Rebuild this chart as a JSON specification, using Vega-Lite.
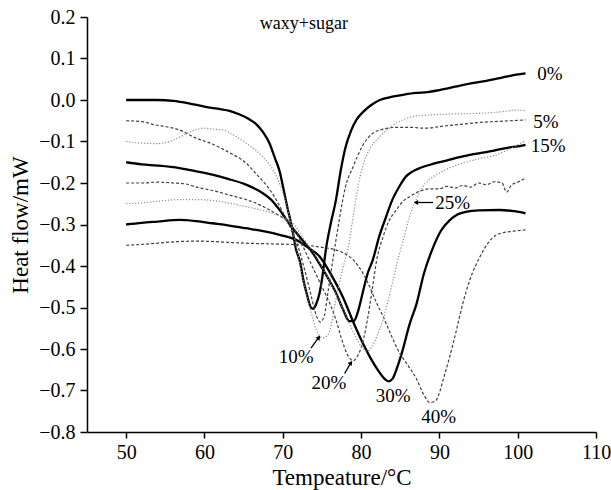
{
  "$schema": "https://vega.github.io/schema/vega-lite/v6.json",
  "width": 509,
  "height": 415,
  "autosize": "none",
  "padding": {"left": 87, "top": 17, "right": 15, "bottom": 58},
  "background": "white",
  "config": {
    "view": {"stroke": null},
    "font": "Liberation Serif",
    "axis": {
      "grid": false,
      "domainColor": "black",
      "domainWidth": 1.5,
      "tickColor": "black",
      "tickWidth": 1.5,
      "labelFont": "Liberation Serif",
      "labelFontSize": 20,
      "labelColor": "black",
      "labelOverlap": false,
      "titleFont": "Liberation Serif",
      "titleFontSize": 23,
      "titleFontWeight": "normal",
      "titleColor": "black"
    }
  },
  "datasets": {
    "curves": [
      {"sugar":"0%","temp":50,"hf":0.0},{"sugar":"0%","temp":52,"hf":0.0},{"sugar":"0%","temp":54,"hf":0.0},{"sugar":"0%","temp":56,"hf":-0.002},{"sugar":"0%","temp":58,"hf":-0.008},{"sugar":"0%","temp":60,"hf":-0.016},{"sugar":"0%","temp":62,"hf":-0.022},{"sugar":"0%","temp":63.2,"hf":-0.026},{"sugar":"0%","temp":64.5,"hf":-0.035},{"sugar":"0%","temp":65.5,"hf":-0.044},{"sugar":"0%","temp":66.6,"hf":-0.058},{"sugar":"0%","temp":67.5,"hf":-0.078},{"sugar":"0%","temp":68.3,"hf":-0.104},{"sugar":"0%","temp":69,"hf":-0.14},{"sugar":"0%","temp":69.6,"hf":-0.172},{"sugar":"0%","temp":70.1,"hf":-0.215},{"sugar":"0%","temp":70.6,"hf":-0.26},{"sugar":"0%","temp":71.1,"hf":-0.3},{"sugar":"0%","temp":71.7,"hf":-0.36},{"sugar":"0%","temp":72.2,"hf":-0.39},{"sugar":"0%","temp":72.7,"hf":-0.44},{"sugar":"0%","temp":73.1,"hf":-0.47},{"sugar":"0%","temp":73.6,"hf":-0.5},{"sugar":"0%","temp":73.9,"hf":-0.503},{"sugar":"0%","temp":74.3,"hf":-0.49},{"sugar":"0%","temp":74.7,"hf":-0.465},{"sugar":"0%","temp":75.1,"hf":-0.42},{"sugar":"0%","temp":75.5,"hf":-0.361},{"sugar":"0%","temp":76.1,"hf":-0.3},{"sugar":"0%","temp":76.8,"hf":-0.24},{"sugar":"0%","temp":77.4,"hf":-0.17},{"sugar":"0%","temp":78,"hf":-0.115},{"sugar":"0%","temp":78.7,"hf":-0.075},{"sugar":"0%","temp":79.4,"hf":-0.048},{"sugar":"0%","temp":80.3,"hf":-0.028},{"sugar":"0%","temp":81.3,"hf":-0.012},{"sugar":"0%","temp":82.4,"hf":0.0},{"sugar":"0%","temp":84,"hf":0.008},{"sugar":"0%","temp":85.5,"hf":0.013},{"sugar":"0%","temp":87,"hf":0.017},{"sugar":"0%","temp":88.5,"hf":0.019},{"sugar":"0%","temp":90,"hf":0.024},{"sugar":"0%","temp":92,"hf":0.032},{"sugar":"0%","temp":94,"hf":0.04},{"sugar":"0%","temp":96,"hf":0.046},{"sugar":"0%","temp":98,"hf":0.054},{"sugar":"0%","temp":99.5,"hf":0.06},{"sugar":"0%","temp":101,"hf":0.064},

      {"sugar":"5%","temp":50,"hf":-0.05},{"sugar":"5%","temp":52,"hf":-0.052},{"sugar":"5%","temp":53.7,"hf":-0.06},{"sugar":"5%","temp":55,"hf":-0.064},{"sugar":"5%","temp":56.8,"hf":-0.072},{"sugar":"5%","temp":58.7,"hf":-0.09},{"sugar":"5%","temp":61,"hf":-0.106},{"sugar":"5%","temp":63,"hf":-0.125},{"sugar":"5%","temp":65.3,"hf":-0.152},{"sugar":"5%","temp":66.7,"hf":-0.18},{"sugar":"5%","temp":67.9,"hf":-0.205},{"sugar":"5%","temp":69,"hf":-0.235},{"sugar":"5%","temp":70,"hf":-0.27},{"sugar":"5%","temp":70.9,"hf":-0.305},{"sugar":"5%","temp":71.9,"hf":-0.35},{"sugar":"5%","temp":72.8,"hf":-0.41},{"sugar":"5%","temp":73.6,"hf":-0.47},{"sugar":"5%","temp":74.3,"hf":-0.52},{"sugar":"5%","temp":74.8,"hf":-0.535},{"sugar":"5%","temp":75.3,"hf":-0.52},{"sugar":"5%","temp":75.8,"hf":-0.46},{"sugar":"5%","temp":76.4,"hf":-0.385},{"sugar":"5%","temp":77.2,"hf":-0.29},{"sugar":"5%","temp":78,"hf":-0.21},{"sugar":"5%","temp":79,"hf":-0.16},{"sugar":"5%","temp":80.2,"hf":-0.11},{"sugar":"5%","temp":81.5,"hf":-0.08},{"sugar":"5%","temp":82.5,"hf":-0.072},{"sugar":"5%","temp":84.5,"hf":-0.066},{"sugar":"5%","temp":86.6,"hf":-0.066},{"sugar":"5%","temp":88,"hf":-0.068},{"sugar":"5%","temp":90.9,"hf":-0.062},{"sugar":"5%","temp":93,"hf":-0.058},{"sugar":"5%","temp":95.2,"hf":-0.054},{"sugar":"5%","temp":97,"hf":-0.052},{"sugar":"5%","temp":99,"hf":-0.05},{"sugar":"5%","temp":101,"hf":-0.048},

      {"sugar":"10%","temp":50,"hf":-0.1},{"sugar":"10%","temp":52,"hf":-0.104},{"sugar":"10%","temp":54,"hf":-0.105},{"sugar":"10%","temp":55.5,"hf":-0.1},{"sugar":"10%","temp":57,"hf":-0.088},{"sugar":"10%","temp":58.5,"hf":-0.074},{"sugar":"10%","temp":60,"hf":-0.068},{"sugar":"10%","temp":61,"hf":-0.07},{"sugar":"10%","temp":62.3,"hf":-0.072},{"sugar":"10%","temp":63.5,"hf":-0.082},{"sugar":"10%","temp":65.3,"hf":-0.104},{"sugar":"10%","temp":67.4,"hf":-0.136},{"sugar":"10%","temp":69.2,"hf":-0.184},{"sugar":"10%","temp":70.3,"hf":-0.24},{"sugar":"10%","temp":71.2,"hf":-0.31},{"sugar":"10%","temp":72,"hf":-0.38},{"sugar":"10%","temp":72.8,"hf":-0.45},{"sugar":"10%","temp":73.6,"hf":-0.51},{"sugar":"10%","temp":74.3,"hf":-0.555},{"sugar":"10%","temp":75.1,"hf":-0.573},{"sugar":"10%","temp":75.8,"hf":-0.565},{"sugar":"10%","temp":76.8,"hf":-0.48},{"sugar":"10%","temp":77.6,"hf":-0.41},{"sugar":"10%","temp":78.3,"hf":-0.36},{"sugar":"10%","temp":79,"hf":-0.28},{"sugar":"10%","temp":79.6,"hf":-0.21},{"sugar":"10%","temp":80.2,"hf":-0.16},{"sugar":"10%","temp":81.2,"hf":-0.115},{"sugar":"10%","temp":82.4,"hf":-0.088},{"sugar":"10%","temp":83.8,"hf":-0.065},{"sugar":"10%","temp":85.3,"hf":-0.048},{"sugar":"10%","temp":86.6,"hf":-0.04},{"sugar":"10%","temp":88.8,"hf":-0.036},{"sugar":"10%","temp":91,"hf":-0.034},{"sugar":"10%","temp":93,"hf":-0.033},{"sugar":"10%","temp":95.2,"hf":-0.032},{"sugar":"10%","temp":97,"hf":-0.03},{"sugar":"10%","temp":99,"hf":-0.026},{"sugar":"10%","temp":100,"hf":-0.024},{"sugar":"10%","temp":101,"hf":-0.026},

      {"sugar":"15%","temp":50,"hf":-0.15},{"sugar":"15%","temp":52,"hf":-0.155},{"sugar":"15%","temp":54,"hf":-0.158},{"sugar":"15%","temp":56.8,"hf":-0.164},{"sugar":"15%","temp":59,"hf":-0.172},{"sugar":"15%","temp":61,"hf":-0.18},{"sugar":"15%","temp":63,"hf":-0.19},{"sugar":"15%","temp":65.3,"hf":-0.204},{"sugar":"15%","temp":67.4,"hf":-0.224},{"sugar":"15%","temp":68.5,"hf":-0.24},{"sugar":"15%","temp":69.6,"hf":-0.265},{"sugar":"15%","temp":70.9,"hf":-0.3},{"sugar":"15%","temp":72.6,"hf":-0.34},{"sugar":"15%","temp":73.7,"hf":-0.365},{"sugar":"15%","temp":74.7,"hf":-0.395},{"sugar":"15%","temp":75.8,"hf":-0.43},{"sugar":"15%","temp":76.8,"hf":-0.465},{"sugar":"15%","temp":77.7,"hf":-0.505},{"sugar":"15%","temp":78.5,"hf":-0.533},{"sugar":"15%","temp":79.1,"hf":-0.532},{"sugar":"15%","temp":79.6,"hf":-0.51},{"sugar":"15%","temp":80.2,"hf":-0.465},{"sugar":"15%","temp":80.8,"hf":-0.42},{"sugar":"15%","temp":81.5,"hf":-0.385},{"sugar":"15%","temp":82.3,"hf":-0.33},{"sugar":"15%","temp":83.2,"hf":-0.281},{"sugar":"15%","temp":84,"hf":-0.24},{"sugar":"15%","temp":84.9,"hf":-0.208},{"sugar":"15%","temp":85.7,"hf":-0.185},{"sugar":"15%","temp":86.6,"hf":-0.172},{"sugar":"15%","temp":87.5,"hf":-0.164},{"sugar":"15%","temp":88.8,"hf":-0.156},{"sugar":"15%","temp":90.9,"hf":-0.146},{"sugar":"15%","temp":93,"hf":-0.136},{"sugar":"15%","temp":95.2,"hf":-0.128},{"sugar":"15%","temp":97,"hf":-0.122},{"sugar":"15%","temp":99,"hf":-0.114},{"sugar":"15%","temp":100,"hf":-0.112},{"sugar":"15%","temp":101,"hf":-0.108},

      {"sugar":"20%","temp":50,"hf":-0.2},{"sugar":"20%","temp":52,"hf":-0.2},{"sugar":"20%","temp":54,"hf":-0.198},{"sugar":"20%","temp":56,"hf":-0.2},{"sugar":"20%","temp":57.5,"hf":-0.202},{"sugar":"20%","temp":59,"hf":-0.21},{"sugar":"20%","temp":61,"hf":-0.218},{"sugar":"20%","temp":63,"hf":-0.228},{"sugar":"20%","temp":65.3,"hf":-0.24},{"sugar":"20%","temp":67,"hf":-0.252},{"sugar":"20%","temp":68.3,"hf":-0.265},{"sugar":"20%","temp":69.7,"hf":-0.28},{"sugar":"20%","temp":70.9,"hf":-0.297},{"sugar":"20%","temp":72,"hf":-0.33},{"sugar":"20%","temp":73,"hf":-0.37},{"sugar":"20%","temp":74,"hf":-0.41},{"sugar":"20%","temp":75,"hf":-0.45},{"sugar":"20%","temp":76,"hf":-0.49},{"sugar":"20%","temp":76.8,"hf":-0.53},{"sugar":"20%","temp":77.5,"hf":-0.575},{"sugar":"20%","temp":78.3,"hf":-0.615},{"sugar":"20%","temp":79,"hf":-0.628},{"sugar":"20%","temp":79.6,"hf":-0.615},{"sugar":"20%","temp":80.2,"hf":-0.585},{"sugar":"20%","temp":80.8,"hf":-0.53},{"sugar":"20%","temp":81.4,"hf":-0.46},{"sugar":"20%","temp":82,"hf":-0.385},{"sugar":"20%","temp":82.8,"hf":-0.33},{"sugar":"20%","temp":83.6,"hf":-0.29},{"sugar":"20%","temp":84.5,"hf":-0.265},{"sugar":"20%","temp":85.3,"hf":-0.245},{"sugar":"20%","temp":86.2,"hf":-0.233},{"sugar":"20%","temp":87.2,"hf":-0.222},{"sugar":"20%","temp":88.8,"hf":-0.214},{"sugar":"20%","temp":90,"hf":-0.214},{"sugar":"20%","temp":91,"hf":-0.208},{"sugar":"20%","temp":92,"hf":-0.212},{"sugar":"20%","temp":93,"hf":-0.206},{"sugar":"20%","temp":94,"hf":-0.21},{"sugar":"20%","temp":95,"hf":-0.2},{"sugar":"20%","temp":96,"hf":-0.204},{"sugar":"20%","temp":97,"hf":-0.197},{"sugar":"20%","temp":98,"hf":-0.2},{"sugar":"20%","temp":98.6,"hf":-0.222},{"sugar":"20%","temp":99.2,"hf":-0.205},{"sugar":"20%","temp":100,"hf":-0.198},{"sugar":"20%","temp":101,"hf":-0.188},

      {"sugar":"25%","temp":50,"hf":-0.25},{"sugar":"25%","temp":52,"hf":-0.248},{"sugar":"25%","temp":54,"hf":-0.244},{"sugar":"25%","temp":56.8,"hf":-0.24},{"sugar":"25%","temp":59,"hf":-0.24},{"sugar":"25%","temp":61,"hf":-0.242},{"sugar":"25%","temp":63,"hf":-0.248},{"sugar":"25%","temp":65.3,"hf":-0.257},{"sugar":"25%","temp":67,"hf":-0.264},{"sugar":"25%","temp":68.7,"hf":-0.273},{"sugar":"25%","temp":70,"hf":-0.283},{"sugar":"25%","temp":71.3,"hf":-0.297},{"sugar":"25%","temp":72.5,"hf":-0.33},{"sugar":"25%","temp":74,"hf":-0.37},{"sugar":"25%","temp":75.5,"hf":-0.42},{"sugar":"25%","temp":77,"hf":-0.475},{"sugar":"25%","temp":78.3,"hf":-0.53},{"sugar":"25%","temp":79.3,"hf":-0.57},{"sugar":"25%","temp":80.2,"hf":-0.598},{"sugar":"25%","temp":80.8,"hf":-0.605},{"sugar":"25%","temp":81.4,"hf":-0.595},{"sugar":"25%","temp":82,"hf":-0.57},{"sugar":"25%","temp":82.8,"hf":-0.53},{"sugar":"25%","temp":83.5,"hf":-0.48},{"sugar":"25%","temp":84.1,"hf":-0.433},{"sugar":"25%","temp":84.7,"hf":-0.385},{"sugar":"25%","temp":85.5,"hf":-0.33},{"sugar":"25%","temp":86.2,"hf":-0.28},{"sugar":"25%","temp":86.8,"hf":-0.25},{"sugar":"25%","temp":87.9,"hf":-0.208},{"sugar":"25%","temp":89,"hf":-0.188},{"sugar":"25%","temp":90,"hf":-0.176},{"sugar":"25%","temp":91.5,"hf":-0.162},{"sugar":"25%","temp":93,"hf":-0.152},{"sugar":"25%","temp":95,"hf":-0.142},{"sugar":"25%","temp":97.3,"hf":-0.132},{"sugar":"25%","temp":99,"hf":-0.118},{"sugar":"25%","temp":100,"hf":-0.108},{"sugar":"25%","temp":101,"hf":-0.098},

      {"sugar":"30%","temp":50,"hf":-0.3},{"sugar":"30%","temp":52,"hf":-0.296},{"sugar":"30%","temp":54,"hf":-0.293},{"sugar":"30%","temp":56.8,"hf":-0.289},{"sugar":"30%","temp":59,"hf":-0.292},{"sugar":"30%","temp":61,"hf":-0.297},{"sugar":"30%","temp":63,"hf":-0.302},{"sugar":"30%","temp":65.3,"hf":-0.309},{"sugar":"30%","temp":67.5,"hf":-0.316},{"sugar":"30%","temp":69.6,"hf":-0.325},{"sugar":"30%","temp":71.7,"hf":-0.337},{"sugar":"30%","temp":73.2,"hf":-0.355},{"sugar":"30%","temp":74.7,"hf":-0.377},{"sugar":"30%","temp":76.3,"hf":-0.425},{"sugar":"30%","temp":77.8,"hf":-0.48},{"sugar":"30%","temp":79,"hf":-0.535},{"sugar":"30%","temp":80.2,"hf":-0.585},{"sugar":"30%","temp":81.3,"hf":-0.625},{"sugar":"30%","temp":82.3,"hf":-0.655},{"sugar":"30%","temp":83,"hf":-0.672},{"sugar":"30%","temp":83.5,"hf":-0.678},{"sugar":"30%","temp":84,"hf":-0.672},{"sugar":"30%","temp":84.6,"hf":-0.645},{"sugar":"30%","temp":85.2,"hf":-0.61},{"sugar":"30%","temp":86.2,"hf":-0.54},{"sugar":"30%","temp":87.1,"hf":-0.49},{"sugar":"30%","temp":88,"hf":-0.42},{"sugar":"30%","temp":89.2,"hf":-0.355},{"sugar":"30%","temp":90.2,"hf":-0.315},{"sugar":"30%","temp":91.3,"hf":-0.29},{"sugar":"30%","temp":92.3,"hf":-0.276},{"sugar":"30%","temp":93.5,"hf":-0.269},{"sugar":"30%","temp":95,"hf":-0.266},{"sugar":"30%","temp":97.7,"hf":-0.265},{"sugar":"30%","temp":99.5,"hf":-0.268},{"sugar":"30%","temp":101,"hf":-0.273},

      {"sugar":"40%","temp":50,"hf":-0.35},{"sugar":"40%","temp":52,"hf":-0.348},{"sugar":"40%","temp":54,"hf":-0.345},{"sugar":"40%","temp":56.8,"hf":-0.341},{"sugar":"40%","temp":59,"hf":-0.34},{"sugar":"40%","temp":61,"hf":-0.341},{"sugar":"40%","temp":63,"hf":-0.343},{"sugar":"40%","temp":65.3,"hf":-0.345},{"sugar":"40%","temp":67,"hf":-0.346},{"sugar":"40%","temp":69,"hf":-0.347},{"sugar":"40%","temp":71,"hf":-0.348},{"sugar":"40%","temp":73,"hf":-0.35},{"sugar":"40%","temp":75,"hf":-0.355},{"sugar":"40%","temp":76.5,"hf":-0.36},{"sugar":"40%","temp":77.7,"hf":-0.368},{"sugar":"40%","temp":79,"hf":-0.385},{"sugar":"40%","temp":80.1,"hf":-0.413},{"sugar":"40%","temp":81.1,"hf":-0.45},{"sugar":"40%","temp":82,"hf":-0.49},{"sugar":"40%","temp":82.8,"hf":-0.521},{"sugar":"40%","temp":83.8,"hf":-0.565},{"sugar":"40%","temp":84.9,"hf":-0.609},{"sugar":"40%","temp":86,"hf":-0.64},{"sugar":"40%","temp":87.1,"hf":-0.673},{"sugar":"40%","temp":88,"hf":-0.71},{"sugar":"40%","temp":88.8,"hf":-0.729},{"sugar":"40%","temp":89.5,"hf":-0.725},{"sugar":"40%","temp":90.1,"hf":-0.7},{"sugar":"40%","temp":90.5,"hf":-0.673},{"sugar":"40%","temp":91.3,"hf":-0.62},{"sugar":"40%","temp":92.2,"hf":-0.553},{"sugar":"40%","temp":93,"hf":-0.49},{"sugar":"40%","temp":93.9,"hf":-0.433},{"sugar":"40%","temp":95.2,"hf":-0.377},{"sugar":"40%","temp":96.2,"hf":-0.345},{"sugar":"40%","temp":97.3,"hf":-0.325},{"sugar":"40%","temp":99,"hf":-0.317},{"sugar":"40%","temp":100,"hf":-0.315},{"sugar":"40%","temp":101,"hf":-0.313}
    ],
    "labels": [
      {"label":"0%","temp":104.1,"hf":0.063},
      {"label":"5%","temp":103.6,"hf":-0.052},
      {"label":"15%","temp":103.9,"hf":-0.112},
      {"label":"25%","temp":91.7,"hf":-0.249},
      {"label":"10%","temp":71.7,"hf":-0.62},
      {"label":"20%","temp":75.9,"hf":-0.682},
      {"label":"30%","temp":84.1,"hf":-0.713},
      {"label":"40%","temp":89.9,"hf":-0.763}
    ],
    "arrows": [
      {"t1":73.6,"v1":-0.598,"t2":74.6,"v2":-0.572,"dir":"up"},
      {"t1":77.9,"v1":-0.659,"t2":78.7,"v2":-0.633,"dir":"up"},
      {"t1":89.2,"v1":-0.247,"t2":87.0,"v2":-0.247,"dir":"left"}
    ],
    "heading": [
      {"label":"waxy+sugar","temp":72.7,"hf":0.183}
    ]
  },
  "layer": [
    {
      "data": {"name": "curves"},
      "transform": [{"filter": {"field": "sugar", "oneOf": ["0%","15%","30%"]}}],
      "mark": {"type": "line", "interpolate": "monotone", "color": "black", "strokeWidth": 2.3},
      "encoding": {
        "x": {
          "field": "temp", "type": "quantitative",
          "scale": {"domain": [45, 110], "nice": false, "zero": false},
          "axis": {
            "title": "Tempeature/°C",
            "titlePadding": 4,
            "values": [50,60,70,80,90,100,110],
            "format": "d",
            "tickSize": 6,
            "labelPadding": 4,
            "labelFlush": false
          }
        },
        "y": {
          "field": "hf", "type": "quantitative",
          "scale": {"domain": [-0.8, 0.2], "nice": false, "zero": false},
          "axis": {
            "title": "Heat flow/mW",
            "titlePadding": 6,
            "values": [-0.8,-0.75,-0.7,-0.65,-0.6,-0.55,-0.5,-0.45,-0.4,-0.35,-0.3,-0.25,-0.2,-0.15,-0.1,-0.05,0,0.05,0.1,0.15,0.2],
            "labelExpr": "abs(datum.value*10 - round(datum.value*10)) < 0.001 ? format(datum.value, '.1f') : ''",
            "tickSize": {"condition": {"test": "abs(datum.value*10 - round(datum.value*10)) < 0.001", "value": 7}, "value": 4},
            "labelPadding": 5,
            "labelFlush": false
          }
        },
        "detail": {"field": "sugar"}
      }
    },
    {
      "data": {"name": "curves"},
      "transform": [{"filter": {"field": "sugar", "oneOf": ["5%","20%","40%"]}}],
      "mark": {"type": "line", "interpolate": "monotone", "color": "#404040", "strokeWidth": 1.2, "strokeDash": [3, 2]},
      "encoding": {
        "x": {"field": "temp", "type": "quantitative"},
        "y": {"field": "hf", "type": "quantitative"},
        "detail": {"field": "sugar"}
      }
    },
    {
      "data": {"name": "curves"},
      "transform": [{"filter": {"field": "sugar", "oneOf": ["10%","25%"]}}],
      "mark": {"type": "line", "interpolate": "monotone", "color": "#8c8c8c", "strokeWidth": 1.2, "strokeDash": [1.2, 1.8]},
      "encoding": {
        "x": {"field": "temp", "type": "quantitative"},
        "y": {"field": "hf", "type": "quantitative"},
        "detail": {"field": "sugar"}
      }
    },
    {
      "data": {"name": "labels"},
      "mark": {"type": "text", "font": "Liberation Serif", "fontSize": 19, "color": "black", "baseline": "middle", "align": "center"},
      "encoding": {
        "x": {"field": "temp", "type": "quantitative"},
        "y": {"field": "hf", "type": "quantitative"},
        "text": {"field": "label"}
      }
    },
    {
      "data": {"name": "heading"},
      "mark": {"type": "text", "font": "Liberation Serif", "fontSize": 18, "color": "black", "baseline": "middle", "align": "center"},
      "encoding": {
        "x": {"field": "temp", "type": "quantitative"},
        "y": {"field": "hf", "type": "quantitative"},
        "text": {"field": "label"}
      }
    },
    {
      "data": {"name": "arrows"},
      "mark": {"type": "rule", "color": "black", "strokeWidth": 1.3},
      "encoding": {
        "x": {"field": "t1", "type": "quantitative"},
        "y": {"field": "v1", "type": "quantitative"},
        "x2": {"field": "t2"},
        "y2": {"field": "v2"}
      }
    },
    {
      "data": {"name": "arrows"},
      "mark": {"type": "point", "filled": true, "color": "black", "size": 26, "opacity": 1},
      "encoding": {
        "x": {"field": "t2", "type": "quantitative"},
        "y": {"field": "v2", "type": "quantitative"},
        "shape": {"field": "dir", "type": "nominal", "legend": null,
                  "scale": {"domain": ["up","left"], "range": ["triangle-up","triangle-left"]}},
        "angle": {"field": "dir", "type": "nominal", "legend": null,
                  "scale": {"domain": ["up","left"], "range": [35, 0]}}
      }
    }
  ]
}
